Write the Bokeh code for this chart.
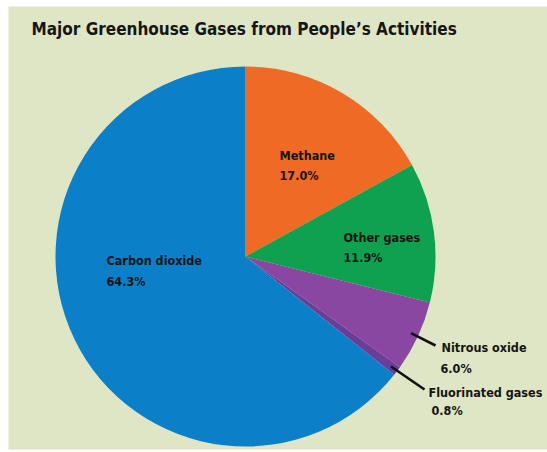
import math
from bokeh.plotting import figure
from bokeh.models import Range1d, ColumnDataSource
from bokeh.core.properties import value
from bokeh.embed import file_html
from bokeh.resources import INLINE

title_text = "Major Greenhouse Gases from People\u2019s Activities"
categories = ["Methane", "Other gases", "Nitrous oxide", "Fluorinated gases", "Carbon dioxide"]
shares = [17.0, 11.9, 6.0, 0.8, 64.3]
colors = ["#ef6a25", "#10a150", "#8a47a2", "#6a3d99", "#0b7fc8"]

# ---- layout (page pixel coordinates) ----
W, H = 547, 452
BG = "#dfe6c5"
CX, CY, R = 245, 256, 190
FONT = "DejaVu Sans Condensed"

def Y(yp):
    return 452 - yp

# label anchors (left x, middle y of first line) in page pixels
label_pos = {
    "Methane": (279, 155),
    "Other gases": (343, 237),
    "Nitrous oxide": (441, 347),
    "Fluorinated gases": (428, 392),
    "Carbon dioxide": (106, 260),
}
pct_offset = {
    "Methane": (0, 20),
    "Other gases": (0, 20),
    "Nitrous oxide": (-1, 21),
    "Fluorinated gases": (3, 18),
    "Carbon dioxide": (0, 21),
}
leader_end = {
    "Nitrous oxide": (435, 345),
    "Fluorinated gases": (424, 389),
}

# ---- angles from data ----
total = sum(shares)
starts, ends, mids = [], [], []
a = math.pi / 2
for s in shares:
    e = a - s / total * 2 * math.pi
    starts.append(a)
    ends.append(e)
    mids.append((a + e) / 2)
    a = e

p = figure(width=W, height=H, output_backend="svg", toolbar_location=None,
           x_range=Range1d(8, 547), y_range=Range1d(Y(449), Y(6)),
           x_axis_type=None, y_axis_type=None,
           min_border_left=8, min_border_right=0, min_border_top=6, min_border_bottom=3,
           background_fill_color=BG, border_fill_color="white", outline_line_color=None)
p.grid.visible = False

src = ColumnDataSource(dict(start=starts, end=ends, color=colors, cat=categories))
p.wedge(x=CX, y=Y(CY), radius=R, start_angle="start", end_angle="end",
        direction="clock", fill_color="color", line_color=None, source=src)

# leader lines
for cat, m in zip(categories, mids):
    if cat in leader_end:
        sx = CX + R * 0.96 * math.cos(m)
        sy = Y(CY) + R * 0.96 * math.sin(m)
        ex, ey = leader_end[cat]
        p.line([sx, ex], [sy, Y(ey)], line_color="#111111", line_width=2.6)

# labels
names_x, names_y, pct_x, pct_y, pct_t = [], [], [], [], []
for cat, s in zip(categories, shares):
    lx, ly = label_pos[cat]
    ox, oy = pct_offset[cat]
    names_x.append(lx); names_y.append(Y(ly))
    pct_x.append(lx + ox); pct_y.append(Y(ly + oy))
    pct_t.append(f"{s:.1f}%")

p.text(x=names_x, y=names_y, text=categories, text_font=value(FONT),
       text_font_style="bold", text_font_size="12.5px", text_color="#141414",
       text_baseline="middle", text_align="left")
p.text(x=pct_x, y=pct_y, text=pct_t, text_font=value(FONT),
       text_font_style="bold", text_font_size="12.5px", text_color="#141414",
       text_baseline="middle", text_align="left")

# title
p.text(x=[31], y=[Y(28)], text=[title_text], text_font=value(FONT),
       text_font_style="bold", text_font_size="17px", text_color="#161616",
       text_baseline="middle", text_align="left")

open("out.html", "w").write(file_html(p, INLINE))
